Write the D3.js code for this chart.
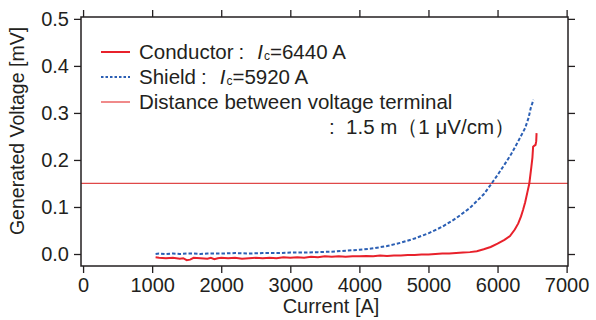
<!DOCTYPE html>
<html>
<head>
<meta charset="utf-8">
<script src="https://cdn.jsdelivr.net/npm/d3@7"></script>
<style>
  body { margin: 0; background: #fff; }
  text { font-family: "Liberation Sans", Arial, sans-serif; fill: #231f20; }
</style>
</head>
<body>
<script>
const width = 596;
const height = 320;
const margin = { top: 17, right: 28, bottom: 54, left: 81 };

// Conductor (red, solid)
const conductorCurrent = [1050, 1100, 1200, 1300, 1400, 1450, 1500, 1550, 1600, 1700, 1800, 1850, 1900, 1950,
  2000, 2100, 2200, 2300, 2400, 2500, 2600, 2700, 2800, 2900, 3000, 3100, 3200, 3300, 3400, 3500,
  3600, 3700, 3800, 3900, 4000, 4100, 4200, 4300, 4400, 4500, 4600, 4700, 4800, 4900, 5000, 5100,
  5200, 5300, 5400, 5500, 5600, 5700, 5800, 5900, 6000, 6100, 6180, 6250, 6300, 6340, 6370, 6400,
  6430, 6460, 6490, 6505, 6515, 6530, 6550, 6560, 6565];
const conductorVoltage = [-0.007, -0.008, -0.009, -0.008, -0.010, -0.009, -0.013, -0.012, -0.008, -0.009, -0.010, -0.008, -0.011, -0.009,
  -0.008, -0.009, -0.008, -0.010, -0.009, -0.008, -0.009, -0.008, -0.009, -0.007, -0.008, -0.007, -0.008, -0.006, -0.007, -0.005,
  -0.006, -0.005, -0.006, -0.005, -0.005, -0.004, -0.005, -0.003, -0.004, -0.003, -0.003, -0.002, -0.002, -0.001, -0.001, 0.000,
  0.001, 0.001, 0.002, 0.003, 0.004, 0.006, 0.010, 0.015, 0.022, 0.030, 0.038, 0.052, 0.065, 0.080, 0.094, 0.110,
  0.130, 0.150, 0.186, 0.205, 0.228, 0.230, 0.232, 0.240, 0.257];

// Shield (blue, dashed)
const shieldCurrent = [1050, 1100, 1200, 1300, 1400, 1500, 1600, 1700, 1800, 1900, 2000, 2200, 2400, 2600, 2800,
  3000, 3200, 3400, 3600, 3800, 4000, 4200, 4400, 4600, 4800, 5000, 5200, 5400, 5600, 5800, 5900,
  6000, 6100, 6200, 6300, 6400, 6450, 6480, 6520];
const shieldVoltage = [0.000, 0.001, 0.000, 0.001, 0.000, 0.001, 0.001, 0.000, 0.001, 0.001, 0.001, 0.002, 0.001, 0.002, 0.002,
  0.003, 0.003, 0.004, 0.005, 0.007, 0.009, 0.012, 0.017, 0.024, 0.033, 0.044, 0.058, 0.076, 0.098, 0.127, 0.147,
  0.168, 0.190, 0.213, 0.240, 0.268, 0.290, 0.310, 0.328];

const criterion = 0.15;
const xTicks = [0, 1000, 2000, 3000, 4000, 5000, 6000, 7000];
const yTicks = [0.0, 0.1, 0.2, 0.3, 0.4, 0.5];

const conductorData = conductorCurrent.map((c, i) => [c, conductorVoltage[i]]);
const shieldData = shieldCurrent.map((c, i) => [c, shieldVoltage[i]]);

const red = "#e8212b";
const blue = "#2b5fb4";
const ink = "#231f20";

const svg = d3.select("body").append("svg")
  .attr("width", width)
  .attr("height", height);

const x = d3.scaleLinear()
  .domain([-30, 7020])
  .range([margin.left, width - margin.right]);

const y = d3.scaleLinear()
  .domain([-0.0255, 0.504])
  .range([height - margin.bottom, margin.top]);

const line = d3.line()
  .x(d => x(d[0]))
  .y(d => y(d[1]));

// criterion line
svg.append("line")
  .attr("x1", x.range()[0]).attr("x2", x.range()[1])
  .attr("y1", y(criterion)).attr("y2", y(criterion))
  .attr("stroke", "#e04848")
  .attr("stroke-width", 1.2);

svg.append("path")
  .datum(conductorData)
  .attr("fill", "none")
  .attr("stroke", red)
  .attr("stroke-width", 2)
  .attr("d", line);

svg.append("path")
  .datum(shieldData)
  .attr("fill", "none")
  .attr("stroke", blue)
  .attr("stroke-width", 2)
  .attr("stroke-dasharray", "3.5,2")
  .attr("d", line);

// axes, mirrored on all sides
const fmtY = d3.format(".1f");
const styleAxis = g => {
  g.select(".domain").remove();
  g.selectAll(".tick line").attr("stroke", ink).attr("stroke-width", 1.3);
  g.selectAll(".tick text").style("font-size", "20px").attr("fill", ink);
};

svg.append("g")
  .attr("transform", `translate(0,${height - margin.bottom})`)
  .call(d3.axisBottom(x).tickValues(xTicks).tickSize(7).tickPadding(5).tickFormat(d3.format("d")))
  .call(styleAxis);

svg.append("g")
  .attr("transform", `translate(0,${margin.top})`)
  .call(d3.axisTop(x).tickValues(xTicks).tickSize(7).tickFormat(""))
  .call(styleAxis);

svg.append("g")
  .attr("transform", `translate(${margin.left},0)`)
  .call(d3.axisLeft(y).tickValues(yTicks).tickSize(7).tickPadding(5).tickFormat(fmtY))
  .call(styleAxis);

svg.append("g")
  .attr("transform", `translate(${width - margin.right},0)`)
  .call(d3.axisRight(y).tickValues(yTicks).tickSize(7).tickFormat(""))
  .call(styleAxis);

svg.append("rect")
  .attr("x", margin.left)
  .attr("y", margin.top)
  .attr("width", width - margin.left - margin.right)
  .attr("height", height - margin.top - margin.bottom)
  .attr("fill", "none")
  .attr("stroke", ink)
  .attr("stroke-width", 1.5);

// axis titles
svg.append("text")
  .attr("x", 331)
  .attr("y", 313)
  .attr("text-anchor", "middle")
  .style("font-size", "20px")
  .text("Current [A]");

svg.append("text")
  .attr("transform", "translate(24,131) rotate(-90)")
  .attr("text-anchor", "middle")
  .style("font-size", "19.5px")
  .text("Generated Voltage [mV]");

// legend
const legend = svg.append("g").style("font-size", "20.5px");
const rows = [
  { color: red, dash: null, name: "Conductor", ic: "6440" },
  { color: blue, dash: "2.5,2", name: "Shield", ic: "5920" },
  { color: "#f08a8a", dash: null, name: "Distance between voltage terminal", ic: null }
];

rows.forEach((r, i) => {
  const cy = 52 + i * 25;
  legend.append("line")
    .attr("x1", 101).attr("x2", 130)
    .attr("y1", cy).attr("y2", cy)
    .attr("stroke", r.color)
    .attr("stroke-width", 2)
    .attr("stroke-dasharray", r.dash);
  const t = legend.append("text").attr("x", 139).attr("y", cy + 7);
  t.append("tspan").text(r.name);
  if (r.ic) {
    t.append("tspan").attr("dx", 5).text(":");
    t.append("tspan").attr("dx", 13).style("font-style", "italic").text("I");
    t.append("tspan").attr("dx", 1).attr("dy", 1).style("font-size", "12px").text("c");
    t.append("tspan").attr("dy", -1).text(`=${r.ic} A`);
  }
});

legend.append("text")
  .attr("x", 329)
  .attr("y", 52 + 3 * 25 + 7)
  .attr("xml:space", "preserve")
  .text(":  1.5 m（1 μV/cm）");
</script>
</body>
</html>
